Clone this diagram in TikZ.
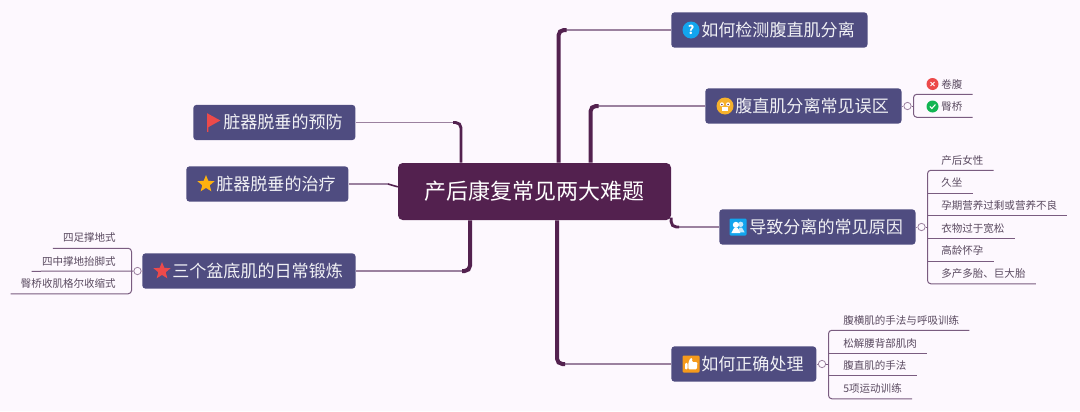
\documentclass[tikz,border=0pt]{standalone}
\usepackage{fontspec}
\setmainfont{Noto Sans CJK SC}
\usetikzlibrary{shapes.geometric}
\definecolor{pagebg}{HTML}{FDF8FE}
\definecolor{rootcol}{HTML}{53214F}
\definecolor{topiccol}{HTML}{4F4C80}
\definecolor{twigcol}{HTML}{9B819F}
\definecolor{leafline}{HTML}{7A5C80}
\definecolor{leaftext}{HTML}{5A4A60}
\definecolor{skyblue}{HTML}{12A5EE}
\definecolor{faceyellow}{HTML}{F6B12C}
\definecolor{thumborange}{HTML}{F59A1B}
\definecolor{flagred}{HTML}{EC4A4A}
\definecolor{stargold}{HTML}{FDB10F}
\definecolor{okgreen}{HTML}{12B552}
\tikzset{
    rootbox/.style={fill=rootcol,rounded corners=3.5pt,text=white,minimum width=204.75pt,minimum height=42.75pt,font=\fontsize{16.5}{18}\selectfont},
    topicbox/.style={fill=topiccol,rounded corners=2.5pt,text=white!92!topiccol,anchor=west,minimum height=26.5pt,inner xsep=9.5pt,inner ysep=0pt,font=\fontsize{12.8}{15}\selectfont},
    leafbox/.style={text=leaftext,minimum height=15pt,inner xsep=7.5pt,inner ysep=0pt,font=\fontsize{7.9}{9}\selectfont},
    trunk/.style={draw=rootcol,line width=3pt,rounded corners=4pt},
    twig/.style={draw=twigcol,line width=1pt},
    leafedge/.style={draw=leafline,line width=0.75pt,rounded corners=2.5pt},
    foldmark/.style={circle,draw=twigcol,fill=pagebg,line width=0.6pt,minimum size=5.5pt,inner sep=0pt},
    iconbox/.style={rounded corners=0.8pt,minimum size=12.75pt,inner sep=0pt},
    iconstar/.style={star,star points=5,star point ratio=2.3,minimum size=13.5pt,inner sep=0pt},
    iconball/.style={circle,minimum size=9pt,inner sep=0pt}
}
\newcommand{\icongap}{\hspace*{13pt}}
\begin{document}
\begin{tikzpicture}[x=0.75pt,y=-0.75pt]
    \fill[pagebg] (0,0) rectangle (1080,411);
    \useasboundingbox (0,0) rectangle (1080,411);

    % main boxes
    \node[rootbox] (root) at (534.5,191.5) {产后康复常见两大难题};
    \node[topicbox] (detect) at (671,30) {\icongap 如何检测腹直肌分离};
    \node[topicbox] (myth) at (705,106) {\icongap 腹直肌分离常见误区};
    \node[topicbox] (cause) at (719,227) {\icongap 导致分离的常见原因};
    \node[topicbox] (treat) at (671,364) {\icongap 如何正确处理};
    \node[topicbox] (prevent) at (193,122.5) {\icongap 脏器脱垂的预防};
    \node[topicbox] (cure) at (186,184) {\icongap 脏器脱垂的治疗};
    \node[topicbox] (floor) at (142,271) {\icongap 三个盆底肌的日常锻炼};

    % elbows of the thick branches
    \coordinate (elbowdetect) at (558.5,30);
    \coordinate (elbowmyth) at (590.5,106);
    \coordinate (elbowcause) at (671,227);
    \coordinate (elbowtreat) at (557,364);
    \coordinate (elbowprevent) at (461,122.5);
    \coordinate (elbowcure) at (388,184);
    \coordinate (elbowfloor) at (470,271);

    \draw[twig] ([xshift=5pt]elbowdetect) -- (detect.west);
    \draw[twig] ([xshift=5pt]elbowmyth) -- (myth.west);
    \draw[twig] ([xshift=5pt]elbowcause) -- (cause.west);
    \draw[twig] ([xshift=5pt]elbowtreat) -- (treat.west);
    \draw[twig] ([xshift=-5pt]elbowprevent) -- (prevent.east);
    \draw[twig] (elbowcure) -- (cure.east);
    \draw[twig] ([xshift=-5pt]elbowfloor) -- (floor.east);

    \draw[trunk] (root.north -| elbowdetect) -- (elbowdetect) -- ([xshift=6pt]elbowdetect);
    \draw[trunk] (root.north -| elbowmyth) -- (elbowmyth) -- ([xshift=6pt]elbowmyth);
    \draw[trunk,line width=2.2pt] ([yshift=2pt]root.south east) -- (elbowcause) -- ([xshift=6pt]elbowcause);
    \draw[trunk] (root.south -| elbowtreat) -- (elbowtreat) -- ([xshift=6pt]elbowtreat);
    \draw[trunk,line width=2.2pt] (root.north -| elbowprevent) -- (elbowprevent) -- ([xshift=-6pt]elbowprevent);
    \draw[draw=rootcol,line width=1.2pt] (elbowcure) -- ([yshift=3.5pt]root.west);
    \draw[trunk] (root.south -| elbowfloor) -- (elbowfloor) -- ([xshift=-6pt]elbowfloor);

    % icons
    \node[circle,fill=skyblue,text=white,minimum size=12.75pt,inner sep=0pt,font=\bfseries\fontsize{9}{9}\selectfont] (askicon) at ([xshift=15pt]detect.west) {?};

    \node[circle,fill=faceyellow,minimum size=12.75pt,inner sep=0pt] (faceicon) at ([xshift=15pt]myth.west) {};
    \fill[white] ([shift={(-2.3pt,1.3pt)}]faceicon.center) circle (1.5pt);
    \fill[white] ([shift={(2.3pt,1.3pt)}]faceicon.center) circle (1.5pt);
    \fill[rootcol] ([shift={(-2.3pt,1.1pt)}]faceicon.center) circle (0.6pt);
    \fill[rootcol] ([shift={(2.3pt,1.1pt)}]faceicon.center) circle (0.6pt);
    \fill[white] ([shift={(-2pt,-4pt)}]faceicon.center) rectangle ([shift={(2pt,-1pt)}]faceicon.center);

    \node[iconbox,fill=skyblue] (peopleicon) at ([xshift=14.25pt]cause.west) {};
    \fill[white!75!skyblue] ([shift={(2pt,2pt)}]peopleicon.center) circle (2pt);
    \fill[white!75!skyblue] ([shift={(-1pt,-4pt)}]peopleicon.center) -- ([shift={(1pt,-0.5pt)}]peopleicon.center) -- ([shift={(3pt,-0.5pt)}]peopleicon.center) -- ([shift={(5pt,-4pt)}]peopleicon.center) -- cycle;
    \fill[white] ([shift={(-1.6pt,1.6pt)}]peopleicon.center) circle (2.3pt);
    \fill[white] ([shift={(-5pt,-4.5pt)}]peopleicon.center) -- ([shift={(-3pt,-0.8pt)}]peopleicon.center) -- ([shift={(-0.2pt,-0.8pt)}]peopleicon.center) -- ([shift={(1.8pt,-4.5pt)}]peopleicon.center) -- cycle;

    \node[iconbox,fill=thumborange] (thumbicon) at ([xshift=15pt]treat.west) {};
    \fill[white,rounded corners=0.8pt] ([shift={(-4.5pt,-4pt)}]thumbicon.center) rectangle ([shift={(-2.6pt,0.8pt)}]thumbicon.center);
    \fill[white,rounded corners=0.8pt] ([shift={(-2pt,-4pt)}]thumbicon.center) -- ([shift={(-2pt,0.8pt)}]thumbicon.center) -- ([shift={(-0.5pt,4.5pt)}]thumbicon.center) -- ([shift={(1pt,4.5pt)}]thumbicon.center) -- ([shift={(0.8pt,1.4pt)}]thumbicon.center) -- ([shift={(4.8pt,1.4pt)}]thumbicon.center) -- ([shift={(4.4pt,-4pt)}]thumbicon.center) -- cycle;

    \fill[flagred] ([shift={(10.5pt,7pt)}]prevent.west) -- ([shift={(20.5pt,1.5pt)}]prevent.west) -- ([shift={(11.5pt,-3.5pt)}]prevent.west) -- ([shift={(11.5pt,-7pt)}]prevent.west) -- ([shift={(10.5pt,-7pt)}]prevent.west) -- cycle;

    \node[iconstar,fill=stargold] (goldstar) at ([xshift=15pt]cure.west) {};
    \node[iconstar,fill=flagred] (redstar) at ([xshift=15pt]floor.west) {};

    % leaves, myth branch
    \node[leafbox,anchor=west] (curl) at (931,84) {卷腹};
    \node[leafbox,anchor=west] (bridge) at (931,107) {臀桥};
    \node[foldmark] (foldmyth) at (907.5,106) {};
    \coordinate (barmyth) at (913.5,106);
    \draw[twig,line width=0.6pt] (myth.east) -- (foldmyth.west);
    \draw[leafedge] (foldmyth.east) -- (barmyth);
    \draw[leafedge] (curl.south east) -- (curl.south -| barmyth) -- (bridge.south -| barmyth) -- (bridge.south east);
    \node[iconball,fill=flagred] (wrongicon) at (932.5,84) {};
    \draw[white,line width=0.7pt] ([shift={(-1.5pt,-1.5pt)}]wrongicon.center) -- ([shift={(1.5pt,1.5pt)}]wrongicon.center);
    \draw[white,line width=0.7pt] ([shift={(-1.5pt,1.5pt)}]wrongicon.center) -- ([shift={(1.5pt,-1.5pt)}]wrongicon.center);
    \node[iconball,fill=okgreen] (righticon) at (932.5,106.5) {};
    \draw[white,line width=0.8pt] ([shift={(-2pt,0pt)}]righticon.center) -- ([shift={(-0.5pt,-1.5pt)}]righticon.center) -- ([shift={(2.2pt,1.5pt)}]righticon.center);

    % leaves, cause branch
    \node[leafbox,anchor=west] (womanleaf) at (931,160) {产后女性};
    \node[leafbox,anchor=west] (sitleaf) at (931,183) {久坐};
    \node[leafbox,anchor=west] (dietleaf) at (931,205.5) {孕期营养过剩或营养不良};
    \node[leafbox,anchor=west] (clothleaf) at (931,228.5) {衣物过于宽松};
    \node[leafbox,anchor=west] (ageleaf) at (931,251) {高龄怀孕};
    \node[leafbox,anchor=west] (birthleaf) at (931,273.5) {多产多胎、巨大胎};
    \node[foldmark] (foldcause) at (921.5,227) {};
    \coordinate (barcause) at (927.5,227);
    \draw[twig,line width=0.6pt] (cause.east) -- (foldcause.west);
    \draw[leafedge] (foldcause.east) -- (barcause);
    \draw[leafedge] (womanleaf.south east) -- (womanleaf.south -| barcause) -- (birthleaf.south -| barcause) -- (birthleaf.south east);
    \draw[leafedge] (sitleaf.south -| barcause) -- (sitleaf.south east);
    \draw[leafedge] (dietleaf.south -| barcause) -- (dietleaf.south east);
    \draw[leafedge] (clothleaf.south -| barcause) -- (clothleaf.south east);
    \draw[leafedge] (ageleaf.south -| barcause) -- (ageleaf.south east);

    % leaves, treat branch
    \node[leafbox,anchor=west] (breathleaf) at (833,320) {腹横肌的手法与呼吸训练};
    \node[leafbox,anchor=west] (looseleaf) at (833,343) {松解腰背部肌肉};
    \node[leafbox,anchor=west] (rectusleaf) at (833,365.5) {腹直肌的手法};
    \node[leafbox,anchor=west] (sportleaf) at (833,388.5) {5项运动训练};
    \node[foldmark] (foldtreat) at (822,364) {};
    \coordinate (bartreat) at (828.5,364);
    \draw[twig,line width=0.6pt] (treat.east) -- (foldtreat.west);
    \draw[leafedge] (foldtreat.east) -- (bartreat);
    \draw[leafedge] (breathleaf.south east) -- (breathleaf.south -| bartreat) -- (sportleaf.south -| bartreat) -- (sportleaf.south east);
    \draw[leafedge] (looseleaf.south -| bartreat) -- (looseleaf.south east);
    \draw[leafedge] (rectusleaf.south -| bartreat) -- (rectusleaf.south east);

    % leaves, floor branch
    \node[leafbox,anchor=east] (kneelleaf) at (126,238) {四足撑地式};
    \node[leafbox,anchor=east] (liftleaf) at (126,261) {四中撑地抬脚式};
    \node[leafbox,anchor=east] (kegelleaf) at (126,283.5) {臀桥收肌格尔收缩式};
    \node[foldmark] (foldfloor) at (137.5,271) {};
    \coordinate (barfloor) at (131.5,271);
    \draw[twig,line width=0.6pt] (floor.west) -- (foldfloor.east);
    \draw[leafedge] (kneelleaf.south west) -- (kneelleaf.south -| barfloor) -- (kegelleaf.south -| barfloor) -- (kegelleaf.south west);
    \draw[leafedge] (liftleaf.south west) -- (foldfloor.west);
\end{tikzpicture}
\end{document}
